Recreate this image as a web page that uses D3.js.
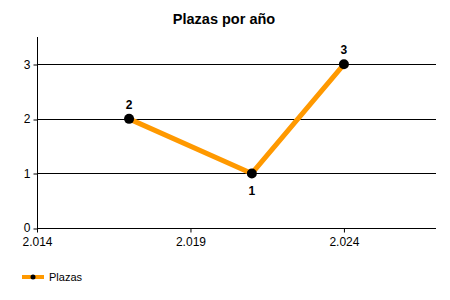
<!DOCTYPE html>
<html><head><meta charset="utf-8">
<script src="https://cdn.jsdelivr.net/npm/d3@7"></script>
<style>body{margin:0;background:#fff;} svg{display:block;font-family:"Liberation Sans",Arial,sans-serif;}</style>
</head><body>
<svg id="c" width="450" height="300"></svg>
<script>
const title = "Plazas por año";
const seriesName = "Plazas";
const years = [2017, 2021, 2024];
const values = [2, 1, 3];
const labelSides = ["above", "below", "above"];
const xTicks = [2014, 2019, 2024];
const yTicks = [0, 1, 2, 3];

(function () {
const svg = d3.select("#c");
const mL = 37, mR = 436, mT = 37, mB = 228;
const x = d3.scaleLinear().domain([2014, 2027]).range([mL, mR]);
const y = d3.scaleLinear().domain([0, 3.5]).range([mB, mT]);
const fmt = d => d3.format(",")(d).replace(",", ".");

svg.append("text").attr("x", 224).attr("y", 24).attr("text-anchor", "middle")
  .attr("font-weight", "bold").attr("font-size", 14.5).text(title);

// gridlines
svg.append("g").selectAll("line").data(yTicks.filter(d => d > 0)).join("line")
  .attr("x1", mL).attr("x2", mR).attr("y1", d => Math.round(y(d)) + 0.5).attr("y2", d => Math.round(y(d)) + 0.5)
  .attr("stroke", "#000").attr("stroke-width", 1);

// y axis
const ya = svg.append("g").attr("transform", `translate(${mL + 0.5},0)`)
  .call(d3.axisLeft(y).tickValues(yTicks).tickSize(4).tickPadding(3).tickFormat(d3.format("d")));
ya.select(".domain").attr("d", `M0,${mT}V${mB + 0.5}`).attr("stroke", "#000");
ya.selectAll(".tick line").attr("stroke", "#000").attr("transform", d => `translate(0,${Math.round(y(d)) + 0.5 - y(d)})`);
ya.selectAll("text").attr("font-size", 12).attr("fill", "#000").attr("font-family", "Liberation Sans, Arial, sans-serif");

// x axis
const xa = svg.append("g").attr("transform", `translate(0,${mB + 0.5})`)
  .call(d3.axisBottom(x).tickValues(xTicks).tickSize(4).tickPadding(5).tickFormat(fmt));
xa.select(".domain").attr("d", `M${mL},0H${mR}`).attr("stroke", "#000");
xa.selectAll(".tick line").attr("stroke", "#000");
xa.selectAll("text").attr("font-size", 12).attr("fill", "#000").attr("font-family", "Liberation Sans, Arial, sans-serif");

// line
const pts = years.map((yr, i) => ({yr, v: values[i], side: labelSides[i]}));
svg.append("path").datum(pts)
  .attr("d", d3.line().x(d => x(d.yr)).y(d => y(d.v)))
  .attr("fill", "none").attr("stroke", "#FF9900").attr("stroke-width", 5).attr("stroke-linejoin", "round");
svg.append("g").selectAll("circle").data(pts).join("circle")
  .attr("cx", d => x(d.yr)).attr("cy", d => y(d.v)).attr("r", 5).attr("fill", "#000");
svg.append("g").selectAll("text").data(pts).join("text")
  .attr("x", d => x(d.yr)).attr("y", d => d.side === "above" ? y(d.v) - 10 : y(d.v) + 22)
  .attr("text-anchor", "middle").attr("font-weight", "bold").attr("font-size", 12).text(d => d.v);

// legend
const lg = svg.append("g");
lg.append("line").attr("x1", 22).attr("x2", 44).attr("y1", 277).attr("y2", 277).attr("stroke", "#FF9900").attr("stroke-width", 4);
lg.append("circle").attr("cx", 33).attr("cy", 277).attr("r", 2.5).attr("fill", "#000");
lg.append("text").attr("x", 49).attr("y", 281).attr("font-size", 11).text(seriesName);
})();
</script>
</body></html>
